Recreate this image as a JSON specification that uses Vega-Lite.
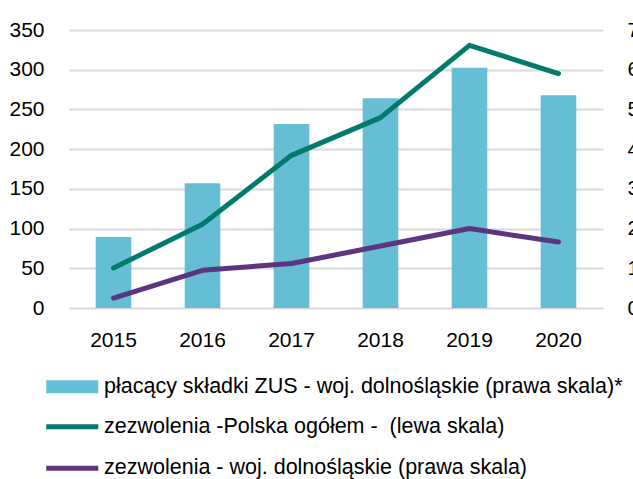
{
  "$schema": "https://vega.github.io/schema/vega-lite/v6.json",
  "width": 534,
  "height": 278,
  "autosize": {"type": "none"},
  "padding": {"left": 69, "top": 30, "right": 30, "bottom": 171},
  "background": "white",
  "config": {
    "font": "Liberation Sans",
    "view": {"stroke": null},
    "axis": {"labelFontSize": 21, "labelColor": "#000000", "ticks": false, "domain": false, "gridColor": "#d9d9d9", "gridWidth": 2, "title": null},
    "legend": {"labelFontSize": 21.5, "labelColor": "#000000", "labelLimit": 800, "padding": 0, "title": null, "orient": "none"}
  },
  "data": {
    "values": [
      {"year": "2015", "series": "bar", "value": 17.9},
      {"year": "2016", "series": "bar", "value": 31.4},
      {"year": "2017", "series": "bar", "value": 46.3},
      {"year": "2018", "series": "bar", "value": 52.8},
      {"year": "2019", "series": "bar", "value": 60.5},
      {"year": "2020", "series": "bar", "value": 53.6},
      {"year": "2015", "series": "pl", "value": 50.4},
      {"year": "2016", "series": "pl", "value": 105.4},
      {"year": "2017", "series": "pl", "value": 192.2},
      {"year": "2018", "series": "pl", "value": 239.7},
      {"year": "2019", "series": "pl", "value": 330.7},
      {"year": "2020", "series": "pl", "value": 295.1},
      {"year": "2015", "series": "dol", "value": 2.5},
      {"year": "2016", "series": "dol", "value": 9.5},
      {"year": "2017", "series": "dol", "value": 11.2},
      {"year": "2018", "series": "dol", "value": 15.6},
      {"year": "2019", "series": "dol", "value": 20.0},
      {"year": "2020", "series": "dol", "value": 16.6}
    ]
  },
  "encoding": {
    "x": {
      "field": "year", "type": "ordinal",
      "scale": {"paddingInner": 0, "paddingOuter": 0},
      "axis": {"labelAngle": 0, "labelPadding": 21, "grid": false}
    }
  },
  "layer": [
    {
      "encoding": {
        "y": {
          "field": "value", "type": "quantitative",
          "scale": {"domain": [0, 70], "nice": false},
          "axis": {"orient": "right", "values": [0, 10, 20, 30, 40, 50, 60, 70], "grid": false, "labelPadding": 24}
        }
      },
      "layer": [
        {
          "transform": [{"filter": "datum.series == 'bar'"}],
          "mark": {"type": "bar", "width": {"band": 0.4}},
          "encoding": {
            "fill": {
              "field": "series", "type": "nominal",
              "scale": {"domain": ["bar"], "range": ["#65bed4"]},
              "legend": {
                "legendX": -7.5, "legendY": 346,
                "symbolType": "M-4,-1H4V1H-4Z", "symbolSize": 169, "symbolOpacity": 1,
                "labelOffset": 21,
                "labelExpr": "'płacący składki ZUS - woj. dolnośląskie (prawa skala)*'"
              }
            }
          }
        },
        {
          "transform": [{"filter": "datum.series == 'dol'"}],
          "mark": {"type": "line", "strokeWidth": 5, "strokeCap": "round", "strokeJoin": "round"},
          "encoding": {
            "stroke": {
              "field": "series", "type": "nominal",
              "scale": {"domain": ["pl", "dol"], "range": ["#007a6c", "#5b357f"]}
            }
          }
        }
      ]
    },
    {
      "transform": [{"filter": "datum.series == 'pl'"}],
      "mark": {"type": "line", "strokeWidth": 5, "strokeCap": "round", "strokeJoin": "round"},
      "encoding": {
        "y": {
          "field": "value", "type": "quantitative",
          "scale": {"domain": [0, 350], "nice": false},
          "axis": {"orient": "left", "values": [0, 50, 100, 150, 200, 250, 300, 350], "grid": true, "labelPadding": 25}
        },
        "stroke": {
          "field": "series", "type": "nominal",
          "scale": {"domain": ["pl", "dol"], "range": ["#007a6c", "#5b357f"]},
          "legend": {
            "legendX": -7.5, "legendY": 386,
            "symbolType": "M-4,0H4", "symbolSize": 169, "symbolStrokeWidth": 5,
            "labelOffset": 21, "rowPadding": 18.5,
            "labelExpr": "datum.value == 'pl' ? 'zezwolenia -Polska ogółem - \u00a0(lewa skala)' : 'zezwolenia - woj. dolnośląskie (prawa skala)'"
          }
        }
      }
    }
  ],
  "resolve": {"scale": {"y": "independent"}}
}
